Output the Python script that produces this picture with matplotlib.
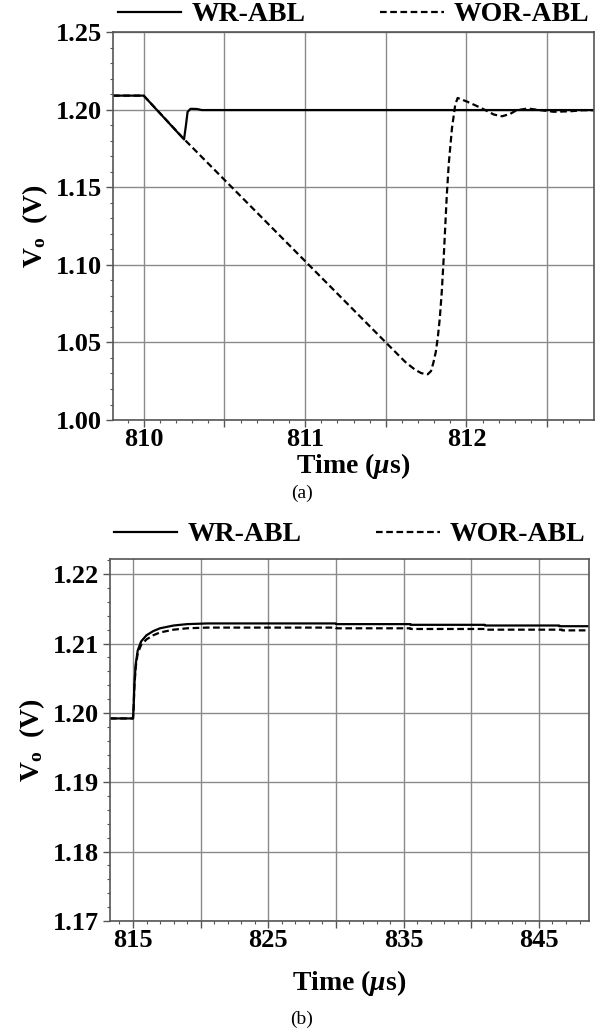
import matplotlib
matplotlib.use('Agg')
from matplotlib import pyplot as plt
from matplotlib.ticker import MultipleLocator, FuncFormatter

plt.rcParams['font.family'] = ['Liberation Serif', 'DejaVu Serif']
plt.rcParams['font.weight'] = 'bold'
plt.rcParams['axes.labelweight'] = 'bold'
plt.rcParams['mathtext.fontset'] = 'custom'
plt.rcParams['mathtext.it'] = 'Liberation Serif:italic'
plt.rcParams['mathtext.bf'] = 'Liberation Serif:bold'
plt.rcParams['mathtext.rm'] = 'Liberation Serif:bold'

# (a) load step: output voltage around 810 us
t_wr_a = [809.81, 810.0, 810.25, 810.262, 810.272, 810.29, 810.33, 810.36, 812.79]
v_wr_a = [1.209, 1.209, 1.1808, 1.190, 1.1985, 1.2005, 1.2004, 1.1997, 1.1997]

t_wor_a = [809.81, 810.0, 810.25, 811.5, 811.62, 811.68, 811.72, 811.76, 811.78,
           811.795, 811.81, 811.822, 811.835, 811.847, 811.858, 811.868, 811.878,
           811.89, 811.91, 811.93, 811.945, 812.0, 812.06, 812.12, 812.17, 812.22,
           812.27, 812.31, 812.38, 812.46, 812.54, 812.64, 812.72, 812.79]
v_wor_a = [1.209, 1.209, 1.181, 1.050, 1.0375, 1.0325, 1.0302, 1.0295, 1.0315,
           1.037, 1.044, 1.053, 1.066, 1.083, 1.103, 1.124, 1.145,
           1.165, 1.188, 1.203, 1.2075, 1.2053, 1.2025, 1.1995, 1.1968, 1.1957,
           1.1972, 1.1996, 1.2007, 1.1996, 1.1986, 1.1989, 1.1996, 1.1996]

# (b) load release: output voltage around 815 us
t_wr_b = [813.3, 815.0, 815.05, 815.1, 815.2, 815.35, 815.6, 816.0, 816.5, 817.0,
          818.0, 819.0, 820.5, 830.0, 830.01, 835.5, 835.51, 841.0, 841.01,
          846.5, 846.51, 848.7]
v_wr_b = [1.1992, 1.1992, 1.2010, 1.2040, 1.2070, 1.2090, 1.2103, 1.2112, 1.2118,
          1.2122, 1.2126, 1.2128, 1.2129, 1.2129, 1.2128, 1.2128, 1.2127, 1.2127,
          1.2126, 1.2126, 1.2125, 1.2125]

t_wor_b = [813.3, 815.0, 815.05, 815.1, 815.2, 815.35, 815.6, 816.0, 816.5, 817.0,
           818.0, 819.0, 820.5, 830.0, 830.01, 835.5, 835.51, 841.0, 841.01,
           846.7, 846.71, 848.7]
v_wor_b = [1.1992, 1.1992, 1.2008, 1.2037, 1.2066, 1.2086, 1.2098, 1.2106, 1.2112,
           1.2116, 1.2120, 1.2122, 1.2123, 1.2123, 1.2122, 1.2122, 1.2121, 1.2121,
           1.2120, 1.2120, 1.2119, 1.2119]

labels = ['WR-ABL', 'WOR-ABL']
dash = (0, (3.0, 1.6))


def style_axes(ax, xlim, ylim, xmaj, xmin, ymaj, ymin, xlabel_step, xlabel_base, xpad):
    ax.set_xlim(*xlim)
    ax.set_ylim(*ylim)
    ax.xaxis.set_major_locator(MultipleLocator(xmaj))
    ax.xaxis.set_minor_locator(MultipleLocator(xmin))
    ax.yaxis.set_major_locator(MultipleLocator(ymaj))
    ax.yaxis.set_minor_locator(MultipleLocator(ymin))

    def xfmt(v, p):
        k = (v - xlabel_base) / xlabel_step
        return '%d' % round(v) if abs(k - round(k)) < 1e-6 else ''

    ax.xaxis.set_major_formatter(FuncFormatter(xfmt))
    ax.yaxis.set_major_formatter(FuncFormatter(lambda v, p: '%.2f' % v))
    ax.grid(True, which='major', color='#8a8a8a', lw=1.0)
    ax.tick_params(which='major', direction='out', length=5, width=1, color='#555555',
                   labelsize=19, pad=3)
    ax.tick_params(which='minor', direction='out', length=2.5, width=0.8, color='#555555')
    ax.tick_params(axis='x', which='major', pad=1)
    for s in ax.spines.values():
        s.set_color('#555555')
        s.set_linewidth(1.2)
    ax.set_ylabel(r'V$_\mathbf{o}$  (V)', fontsize=20, labelpad=4)
    ax.set_xlabel(r'Time ($\mu$s)', fontsize=20, labelpad=xpad)


fig = plt.figure(figsize=(6.03, 10.32), dpi=100)

ax1 = fig.add_axes([0.1874, 0.5930, 0.7977, 0.3760])
ax1.plot(t_wr_a, v_wr_a, color='black', lw=1.6, label=labels[0])
ax1.plot(t_wor_a, v_wor_a, color='black', lw=1.6, ls=dash, label=labels[1])
style_axes(ax1, (809.81, 812.79), (1.00, 1.25), 0.5, 0.1, 0.05, 0.01, 1.0, 810.0, 0)
ax1.legend(loc='center', bbox_to_anchor=(0.5, 1.045), ncol=2, frameon=False,
           fontsize=20, handlelength=2.3, handletextpad=0.35, columnspacing=2.7,
           borderaxespad=0)
fig.text(0.5, 1 - 493 / 1032, '(a)', ha='center', va='center', fontsize=14,
         fontweight='normal')

ax2 = fig.add_axes([0.1824, 0.1076, 0.7944, 0.3508])
ax2.plot(t_wr_b, v_wr_b, color='black', lw=1.6, label=labels[0])
ax2.plot(t_wor_b, v_wor_b, color='black', lw=1.6, ls=dash, label=labels[1])
style_axes(ax2, (813.3, 848.7), (1.17, 1.2222), 5, 1, 0.01, 0.002, 10.0, 815.0, 11)
ax2.legend(loc='center', bbox_to_anchor=(0.5, 1.067), ncol=2, frameon=False,
           fontsize=20, handlelength=2.3, handletextpad=0.35, columnspacing=2.7,
           borderaxespad=0)
fig.text(0.5, 1 - 1019 / 1032, '(b)', ha='center', va='center', fontsize=14,
         fontweight='normal')

fig.savefig('out.png', dpi=100)
